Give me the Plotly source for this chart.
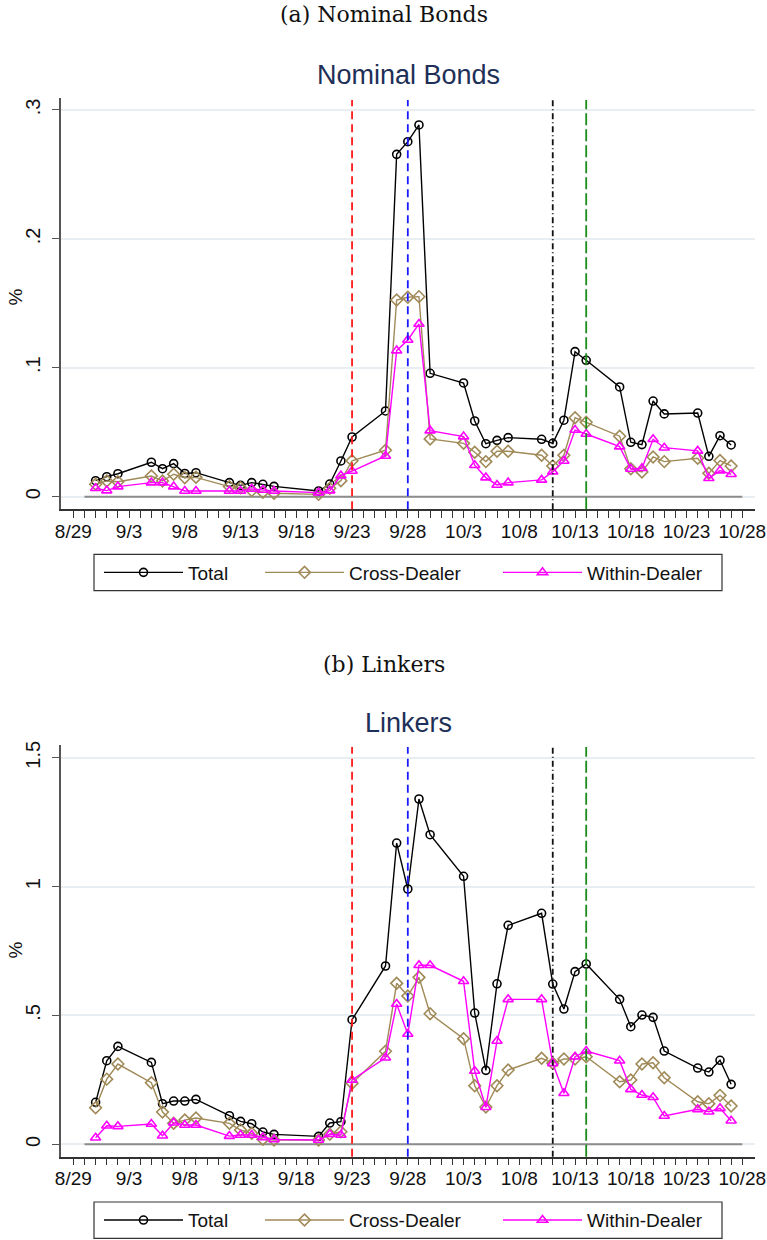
import plotly.graph_objects as go
import pandas as pd

W, H = 767, 1240

dates = ["2022-08-31", "2022-09-01", "2022-09-02", "2022-09-05", "2022-09-06", "2022-09-07",
         "2022-09-08", "2022-09-09", "2022-09-12", "2022-09-13", "2022-09-14", "2022-09-15",
         "2022-09-16", "2022-09-20", "2022-09-21", "2022-09-22", "2022-09-23", "2022-09-26",
         "2022-09-27", "2022-09-28", "2022-09-29", "2022-09-30", "2022-10-03", "2022-10-04",
         "2022-10-05", "2022-10-06", "2022-10-07", "2022-10-10", "2022-10-11", "2022-10-12",
         "2022-10-13", "2022-10-14", "2022-10-17", "2022-10-18", "2022-10-19", "2022-10-20",
         "2022-10-21", "2022-10-24", "2022-10-25", "2022-10-26", "2022-10-27"]

nominal_total = [0.0124, 0.0155, 0.0178, 0.0267, 0.0217, 0.0256, 0.018, 0.0186, 0.0109, 0.0088,
                 0.0109, 0.0096, 0.008, 0.0044, 0.0098, 0.0277, 0.0463, 0.0665, 0.2656, 0.2754,
                 0.2884, 0.0957, 0.0882, 0.0587, 0.0411, 0.0437, 0.0458, 0.0445, 0.0414, 0.0593,
                 0.1125, 0.1058, 0.0851, 0.0422, 0.0404, 0.0742, 0.0642, 0.0649, 0.0313, 0.0473,
                 0.0401]
nominal_cross = [0.0096, 0.0122, 0.0116, 0.016, 0.0122, 0.0174, 0.0147, 0.015, 0.0078, 0.007,
                 0.0047, 0.0034, 0.0026, 0.0018, 0.0065, 0.0124, 0.0279, 0.036, 0.1526, 0.1547,
                 0.1552, 0.0448, 0.0414, 0.0344, 0.0272, 0.0352, 0.0352, 0.0321, 0.0238, 0.0321,
                 0.0613, 0.0577, 0.0469, 0.0217, 0.0192, 0.0308, 0.0272, 0.0298, 0.0181, 0.028,
                 0.0238]
nominal_within = [0.0065, 0.0047, 0.0078, 0.0109, 0.0109, 0.0078, 0.0044, 0.0044, 0.0044, 0.0044,
                  0.006, 0.0052, 0.0044, 0.0031, 0.0047, 0.0163, 0.0199, 0.0316, 0.1133, 0.1216,
                  0.134, 0.0512, 0.0466, 0.0244, 0.0148, 0.0091, 0.0109, 0.013, 0.0194, 0.0277,
                  0.0517, 0.0486, 0.0388, 0.0215, 0.022, 0.0445, 0.038, 0.0355, 0.0143, 0.0202,
                  0.0174]

linker_total = [0.163, 0.3245, 0.380, 0.318, 0.1577, 0.168, 0.168, 0.1745, 0.111, 0.089,
                0.080, 0.0477, 0.0388, 0.031, 0.0827, 0.0877, 0.4836, 0.692, 1.169, 0.9907,
                1.340, 1.2015, 1.040, 0.5095, 0.287, 0.623, 0.8498, 0.8964, 0.622, 0.525,
                0.670, 0.6997, 0.5626, 0.4565, 0.5017, 0.4928, 0.362, 0.296, 0.2805, 0.326,
                0.2328]
linker_cross = [0.142, 0.253, 0.3116, 0.239, 0.1253, 0.0815, 0.094, 0.102, 0.0815, 0.0555,
                0.0427, 0.0194, 0.017, 0.017, 0.039, 0.049, 0.2367, 0.361, 0.6247, 0.5755,
                0.648, 0.5068, 0.41, 0.2275, 0.1447, 0.2275, 0.2883, 0.3337, 0.3143, 0.331,
                0.331, 0.340, 0.243, 0.2495, 0.3116, 0.3167, 0.2585, 0.1653, 0.1577, 0.190,
                0.1486]
linker_within = [0.0256, 0.072, 0.0698, 0.0788, 0.0334, 0.084, 0.075, 0.075, 0.032, 0.036,
                 0.036, 0.027, 0.019, 0.017, 0.039, 0.036, 0.2495, 0.336, 0.5444, 0.428,
                 0.6946, 0.6946, 0.6325, 0.2844, 0.1436, 0.401, 0.5626, 0.5626, 0.3143, 0.198,
                 0.340, 0.362, 0.3245, 0.2134, 0.1913, 0.1824, 0.1098, 0.1358, 0.1265, 0.1397,
                 0.0916]

zero_line_dates = ["2022-08-30", "2022-10-28"]
zero_line_vals = [0, 0]

event_dates = ["2022-09-23", "2022-09-28", "2022-10-11", "2022-10-14"]
event_colors = ["#ff1a1a", "#1a1aff", "#111111", "#1a8c1a"]
event_dash = ["8px,5px", "8px,5px", "6px,3px,1px,3px", "12px,4px"]

x_tick_vals = ["2022-08-29", "2022-09-03", "2022-09-08", "2022-09-13", "2022-09-18", "2022-09-23",
               "2022-09-28", "2022-10-03", "2022-10-08", "2022-10-13", "2022-10-18", "2022-10-23",
               "2022-10-28"]
x_tick_text = ["8/29", "9/3", "9/8", "9/13", "9/18", "9/23", "9/28", "10/3", "10/8", "10/13",
               "10/18", "10/23", "10/28"]
minor_vals = [d.strftime("%Y-%m-%d") for d in pd.date_range("2022-08-29", "2022-10-28", freq="D")]

y1_ticks = [0, 0.1, 0.2, 0.3]
y1_text = ["0", ".1", ".2", ".3"]
y2_ticks = [0, 0.5, 1, 1.5]
y2_text = ["0", ".5", "1", "1.5"]

series_names = ["Total", "Cross-Dealer", "Within-Dealer"]
series_colors = ["#000000", "#a08a58", "#ff00ff"]
series_symbols = ["circle-open", "diamond-open", "triangle-up-open"]
series_sizes = [8, 9, 9]

SANS = "Liberation Sans, Arial, sans-serif"
SERIF = "DejaVu Serif, Liberation Serif, serif"
TITLE_COLOR = "#1e2f58"

# legend layout (pixels)
LEG_ITEM_X = [99, 260, 498]
LEG_BOX_X = [94, 722]
LEG_BOX_Y = [(554.3, 590.7), (1202.0, 1238.4)]


def py(px):
    return 1 - px / H


fig = go.Figure()

panels = [
    ("x", "y", [nominal_total, nominal_cross, nominal_within], ["legend", "legend2", "legend3"]),
    ("x2", "y2", [linker_total, linker_cross, linker_within], ["legend4", "legend5", "legend6"]),
]

for xa, ya, series, legs in panels:
    fig.add_trace(go.Scatter(x=zero_line_dates, y=zero_line_vals, mode="lines",
                             line=dict(color="#8c8c8c", width=2), showlegend=False,
                             hoverinfo="skip", xaxis=xa, yaxis=ya))
    for name, vals, col, sym, sz, leg in zip(series_names, series, series_colors,
                                            series_symbols, series_sizes, legs):
        fig.add_trace(go.Scatter(
            x=dates, y=vals, mode="lines+markers", name=name,
            line=dict(color=col, width=1.4),
            marker=dict(symbol=sym, size=sz, color=col, line=dict(color=col, width=1.6)),
            xaxis=xa, yaxis=ya, legend=leg))

# event lines
for xref, yref in [("x", "y domain"), ("x2", "y2 domain")]:
    for d, c, ds in zip(event_dates, event_colors, event_dash):
        fig.add_shape(type="line", xref=xref, yref=yref, x0=d, x1=d, y0=0, y1=0.995,
                      line=dict(color=c, width=1.8, dash=ds), layer="above")

# legend frames
for (y0, y1) in LEG_BOX_Y:
    fig.add_shape(type="rect", xref="paper", yref="paper", x0=LEG_BOX_X[0] / W, x1=LEG_BOX_X[1] / W,
                  y0=py(y1), y1=py(y0), line=dict(color="#333333", width=1.2), fillcolor="rgba(0,0,0,0)")

x_range = ["2022-08-27 21:30", "2022-10-29 03:20"]
xdom = [61 / W, 755 / W]

axis_common_x = dict(
    type="date", range=x_range, domain=xdom, tickmode="array", tickvals=x_tick_vals,
    ticktext=x_tick_text, ticks="outside", ticklen=7, tickwidth=1.2, tickcolor="#333333",
    tickfont=dict(family=SANS, size=19, color="#111111"), showline=True, linecolor="#333333",
    linewidth=1.5, showgrid=False, zeroline=False, automargin=False, ticklabelstandoff=-3,
    minor=dict(tickmode="array", tickvals=minor_vals, ticks="outside", ticklen=7,
               tickwidth=1.2, tickcolor="#333333", showgrid=False),
)
axis_common_y = dict(
    tickmode="array", ticks="outside", ticklen=7, tickwidth=1.2, tickcolor="#555555",
    tickangle=-90, tickfont=dict(family=SANS, size=20, color="#111111"), showline=True,
    linecolor="#555555", linewidth=1.8, showgrid=True, gridcolor="#e8eef1", gridwidth=1.5,
    zeroline=False, automargin=False, ticklabelstandoff=4,
)

legend_layout = {}
legend_names = ["legend", "legend2", "legend3", "legend4", "legend5", "legend6"]
for i, ln in enumerate(legend_names):
    panel = i // 3
    item = i % 3
    y0, y1 = LEG_BOX_Y[panel]
    legend_layout[ln] = dict(
        orientation="h", x=LEG_ITEM_X[item] / W, xanchor="left", y=py((y0 + y1) / 2),
        yanchor="middle", borderwidth=0, bgcolor="rgba(0,0,0,0)", itemwidth=79,
        font=dict(family=SANS, size=19, color="#111111"))

fig.update_layout(
    width=W, height=H, margin=dict(l=0, r=0, t=0, b=0),
    paper_bgcolor="white", plot_bgcolor="white",
    font=dict(family=SANS, color="#111111"),
    xaxis=dict(axis_common_x, anchor="y"),
    yaxis=dict(axis_common_y, domain=[py(509.3), py(98)], range=[-0.0098, 0.3093],
               tickvals=y1_ticks, ticktext=y1_text, anchor="x"),
    xaxis2=dict(axis_common_x, anchor="y2"),
    yaxis2=dict(axis_common_y, domain=[py(1156.7), py(745)], range=[-0.048, 1.5495],
                tickvals=y2_ticks, ticktext=y2_text, anchor="x2"),
    showlegend=True,
    **legend_layout,
)

annots = [
    dict(text="(a) Nominal Bonds", x=0.5, y=py(15), font=dict(family=SERIF, size=22, color="#111111")),
    dict(text="(b) Linkers", x=0.5, y=py(664), font=dict(family=SERIF, size=22, color="#111111")),
    dict(text="Nominal Bonds", x=408 / W, y=py(75), font=dict(family=SANS, size=27, color=TITLE_COLOR)),
    dict(text="Linkers", x=408 / W, y=py(723), font=dict(family=SANS, size=27, color=TITLE_COLOR)),
    dict(text="%", x=14.5 / W, y=py(297), textangle=-90, font=dict(family=SANS, size=19, color="#111111")),
    dict(text="%", x=14.5 / W, y=py(950), textangle=-90, font=dict(family=SANS, size=19, color="#111111")),
]
for a in annots:
    fig.add_annotation(xref="paper", yref="paper", xanchor="center", yanchor="middle",
                       showarrow=False, **a)

fig.write_html("out.html", config={"displayModeBar": False},
               post_script="document.body.style.margin='0';document.body.style.padding='0';")
